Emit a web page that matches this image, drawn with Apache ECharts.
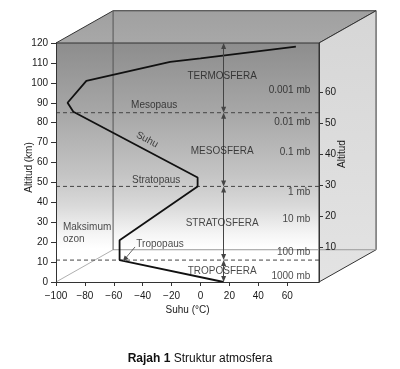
<!DOCTYPE html>
<html><head><meta charset="utf-8">
<script src="https://cdn.jsdelivr.net/npm/echarts@6/dist/echarts.min.js"></script>
<style>html,body{margin:0;padding:0;background:#fff}#c{width:400px;height:369px}</style>
</head><body><div id="c"></div>
<script>
// ---- data ----
const xTicks = [-100, -80, -60, -40, -20, 0, 20, 40, 60];
const mileTicks = [10, 20, 30, 40, 50, 60];
const tempProfile = [[16,0],[-56,11],[-56,21],[-2,48],[-2,52.5],[-88,85.5],[-92,90],[-79,101],[-21,110.5],[0,112.3],[66,118.2]];
const boundaries = [11, 48, 85];
const layerSpans = [[0,11],[11,48],[48,85],[85,120]];
const layerNames = ['TROPOSFERA', 'STRATOSFERA', 'MESOSFERA', 'TERMOSFERA'];
const layerLabelAt = [[15,5.5],[15,29.6],[15,65.8],[15,103.5]];
const pressureLabels = ['1000 mb', '100 mb', '10 mb', '1 mb', '0.1 mb', '0.01 mb', '0.001 mb'];
const pressureLabelAt = [[76,3.0],[76,15.1],[76,31.7],[76,45.2],[76,65.3],[76,80.4],[76,96.5]];
const pauseNames = ['Tropopaus', 'Stratopaus', 'Mesopaus'];
const pauseLabelAt = [[-28,19.1],[-30.7,51.3],[-32.1,88.9]];
const curveLabel = 'Suhu';
const curveLabelAt = [-37, 71.4];
const ozoneLabel = 'Maksimum\nozon';
const ozoneLabelAt = [-95.2, 24.6];
const tropoArrow = [[-45.3,17.6],[-52.5,11.4]];
const arrowX = 16;

// ---- box geometry (axis extents + depth) ----
const X0 = -100, X1 = 82, Y0 = 0, Y1 = 120, DX = 39.5, DY = 16.2;
const TIP = 1.5; // half arrow-head height, in km, so the tips touch the boundaries
const FONT = 'Liberation Sans, Arial, sans-serif';
const minus = v => String(v).replace('-', '\u2212');

function boxRender(params, api) {
  const c = (x, y) => api.coord([x, y]);
  const line = (pts, color, w) => ({type:'polyline', shape:{points:pts}, style:{stroke:color, lineWidth:w||1, fill:null}});
  return {type:'group', children:[
    {type:'polygon', shape:{points:[c(X0,Y0),c(X1,Y0),c(X1,Y1),c(X0,Y1)]},
      style:{fill:new echarts.graphic.LinearGradient(0,0,0,1,[
        {offset:0,color:'#8d8d8d'},{offset:0.3,color:'#a8a8a8'},{offset:0.55,color:'#c4c4c4'},
        {offset:0.68,color:'#d9d9d9'},{offset:0.8,color:'#f5f5f5'},{offset:0.86,color:'#ffffff'},{offset:1,color:'#ffffff'}])}},
    {type:'polygon', shape:{points:[c(X0,Y1),c(X1,Y1),c(X1+DX,Y1+DY),c(X0+DX,Y1+DY)]},
      style:{fill:new echarts.graphic.LinearGradient(0,0,0,1,[{offset:0,color:'#a0a0a0'},{offset:1,color:'#a8a8a8'}]), stroke:'#333', lineWidth:1}},
    {type:'polygon', shape:{points:[c(X1,Y0),c(X1+DX,Y0+DY),c(X1+DX,Y1+DY),c(X1,Y1)]},
      style:{fill:new echarts.graphic.LinearGradient(0,0,0,1,[{offset:0,color:'#d6d6d6'},{offset:1,color:'#e3e3e3'}]), stroke:'#333', lineWidth:1}},
    line([c(X0,Y0),c(X0+DX,Y0+DY)], '#b0b0b0'),
    line([c(X0+DX,Y0+DY),c(X1+DX,Y0+DY)], '#999'),
    line([c(X0+DX,Y0+DY),c(X0+DX,Y1+DY)], '#555')
  ]};
}

function labelSeries(texts, pos, lab) {
  return {type:'scatter', symbolSize:1, itemStyle:{color:'rgba(0,0,0,0)'}, silent:true, z:6,
    data: texts.map((t,i)=>({value:pos[i], name:t})),
    label:Object.assign({show:true, position:'inside', formatter:p=>p.name, color:'#1a1a1a', fontFamily:FONT, fontSize:10}, lab)};
}

const series = [
  {type:'custom', renderItem:boxRender, data:[[0,0]], z:0, silent:true, clip:false},
  ...boundaries.map(b => ({type:'line', data:[[X0,b],[X1,b],[X1+DX,b+DY]], symbol:'none', clip:false, silent:true, z:2,
    lineStyle:{color:'#444', width:1, type:[4,3]}})),
  {type:'line', data:[], z:3, silent:true,
    markLine:{silent:true, symbol:['triangle','triangle'], symbolSize:[5,6], label:{show:false},
      lineStyle:{color:'#444', width:1, type:'solid'}, itemStyle:{color:'#222'},
      data: layerSpans.map(s => [{coord:[arrowX,s[0]+TIP]},{coord:[arrowX,s[1]-TIP]}])}},
  {type:'line', data:[], z:3, silent:true,
    markLine:{silent:true, symbol:['none','triangle'], symbolSize:[5,6], label:{show:false},
      lineStyle:{color:'#444', width:0.8, type:'solid'},
      data:[[{coord:tropoArrow[0]},{coord:tropoArrow[1]}]]}},
  {type:'line', data:tempProfile, symbol:'none', z:4, silent:true, lineStyle:{color:'#111', width:1.8}},
  labelSeries(layerNames, layerLabelAt, {}),
  labelSeries(pressureLabels, pressureLabelAt, {align:'right'}),
  labelSeries(pauseNames, pauseLabelAt, {}),
  labelSeries([curveLabel], [curveLabelAt], {rotate:-28}),
  labelSeries([ozoneLabel], [ozoneLabelAt], {align:'left', lineHeight:12})
];

const chart = echarts.init(document.getElementById('c'), null, {renderer:'canvas'});
chart.setOption({
  animation:false,
  textStyle:{fontFamily:FONT},
  title:{text:'{b|Rajah 1} Struktur atmosfera', left:'center', top:348,
    textStyle:{fontSize:12, fontWeight:'normal', color:'#111', fontFamily:FONT,
      rich:{b:{fontSize:12, fontWeight:'bold', color:'#111', fontFamily:FONT}}}},
  grid:{left:56, top:43, width:263, height:239, containLabel:false, outerBoundsMode:'none'},
  xAxis:{type:'value', min:X0, max:X1, interval:20, z:10,
    name:'Suhu (\u00B0C)', nameLocation:'middle', nameGap:23, nameMoveOverlap:false,
    nameTextStyle:{fontSize:10, color:'#1a1a1a', fontFamily:FONT},
    axisLine:{onZero:false, lineStyle:{color:'#333'}},
    axisTick:{show:true, length:4, customValues:xTicks, lineStyle:{color:'#333'}},
    axisLabel:{customValues:xTicks, margin:9, fontSize:10, color:'#1a1a1a', fontFamily:FONT, formatter:minus},
    splitLine:{show:false}},
  yAxis:[
    {type:'value', min:Y0, max:Y1, interval:10, z:10,
      name:'Altitud (km)', nameLocation:'middle', nameGap:22, nameMoveOverlap:false,
      nameTextStyle:{fontSize:10, color:'#1a1a1a', fontFamily:FONT, padding:[0,10,0,0]},
      axisLine:{show:true, onZero:false, lineStyle:{color:'#333'}},
      axisTick:{show:true, length:5, lineStyle:{color:'#333'}},
      axisLabel:{margin:8, fontSize:10, color:'#1a1a1a', fontFamily:FONT},
      splitLine:{show:false}},
    {type:'value', position:'right', min:-1.13, max:75.97, z:10,
      name:'Altitud', nameLocation:'middle', nameGap:18, nameRotate:90, nameMoveOverlap:false,
      nameTextStyle:{fontSize:10, color:'#1a1a1a', fontFamily:FONT, padding:[0,0,0,17]},
      axisLine:{show:true, onZero:false, lineStyle:{color:'#333'}},
      axisTick:{show:true, length:4, customValues:mileTicks, lineStyle:{color:'#333'}},
      axisLabel:{customValues:mileTicks, margin:6, fontSize:10, color:'#1a1a1a', fontFamily:FONT},
      splitLine:{show:false}}
  ],
  series: series
});
</script></body></html>
